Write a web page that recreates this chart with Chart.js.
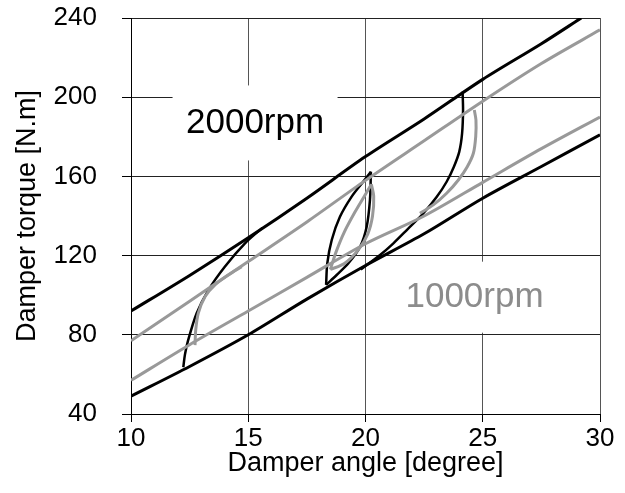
<!DOCTYPE html>
<html>
<head>
<meta charset="utf-8">
<script src="https://cdn.jsdelivr.net/npm/chart.js@4.4.0/dist/chart.umd.min.js"></script>
<style>
  html, body { margin: 0; padding: 0; background: #fff; }
  #wrap { width: 625px; height: 493px; }
</style>
</head>
<body>
<div id="wrap"><canvas id="hysteresis"></canvas></div>
<script>
// envelopes (full sweep), damper angle [deg] -> torque [N.m]
const envX        = [10, 12.5, 15, 17.5, 20, 22.5, 25, 27.5, 30];
const black2000Up = [92, 110, 129, 149, 170, 189, 209, 227, 240];
const black2000UpX = [10, 12.5, 15, 17.5, 20, 22.5, 25, 27.5, 29.2];
const black2000Lo = [49, 64, 80, 98, 115, 131, 149, 165, 181];
const gray1000Up  = [77, 97, 117, 137, 158, 178, 198, 217, 234];
const gray1000Lo  = [57, 75, 92, 109, 126, 140, 157, 174, 190];

// 2000rpm big loop branches
const bLoopUpX   = [12.23, 12.3, 12.44, 12.8, 13.3, 14.0, 14.86, 15.6];
const bLoopUpY   = [63.6, 70, 77.4, 90.9, 102.6, 114.4, 126.2, 134];
const bLoopDownX = [24.14, 24.16, 24.12, 24.0, 23.77, 23.46, 23.04, 22.47, 21.76, 21.19, 20.62, 19.8];
const bLoopDownY = [202.8, 193.5, 181.8, 172.5, 164.9, 157.3, 149.7, 141.4, 132.9, 126.2, 120.3, 113];

// 2000rpm small loop
const bLensLeftX  = [18.32, 18.37, 18.56, 18.91, 19.41, 19.9, 20.23];
const bLensLeftY  = [105.2, 116.1, 127.9, 139.6, 149.8, 157.3, 162.4];
const bLensRightX = [20.23, 20.19, 20.05, 19.77, 19.27, 18.77, 18.32];
const bLensRightY = [162.4, 148.1, 134.6, 124.5, 116.1, 110.2, 105.2];

// 1000rpm big loop branches
const gLoopUpX   = [12.73, 12.76, 12.87, 13.16, 13.58, 14.15, 14.72];
const gLoopUpY   = [74.8, 82.4, 90.9, 99.3, 105.2, 110.2, 114.4];
const gLoopDownX = [24.64, 24.71, 24.7, 24.6, 24.34, 23.96, 23.46, 22.89, 22.32];
const gLoopDownY = [193.5, 188.5, 180.1, 171.7, 164.9, 158.2, 151.5, 145.6, 141.4];

// 1000rpm small loop
const gLensLeftX  = [18.5, 18.75, 19.1, 19.55, 19.95, 20.25];
const gLensLeftY  = [113, 122, 132, 142, 150, 156];
const gLensRightX = [20.25, 20.35, 20.3, 20.1, 19.7, 19.1, 18.5];
const gLensRightY = [156, 150, 140, 131, 123, 116, 113];

const xTicks = [10, 15, 20, 25, 30];
const yTicks = [40, 80, 120, 160, 200, 240];

const BLACK = '#000000';
const GRAY = '#999999';
const FONT = "'Liberation Sans', Arial, sans-serif";

function pts(xs, ys) {
  return xs.map((x, i) => ({ x: x, y: ys[i] }));
}

function line(xs, ys, color, width) {
  return {
    data: pts(xs, ys),
    showLine: true,
    borderColor: color,
    borderWidth: width,
    pointRadius: 0,
    tension: 0.3,
    fill: false
  };
}

// white label boxes with text, placed in data coordinates
const labels = [
  { text: '2000rpm', x: 15.29, y: 187, color: '#000000', w: 165, h: 75 },
  { text: '1000rpm', x: 24.65, y: 99, color: '#8c8c8c', w: 160, h: 71 }
];

const labelPlugin = {
  id: 'rpmLabels',
  beforeDatasetsDraw(chart) {
    const ctx = chart.ctx;
    const xs = chart.scales.x, ys = chart.scales.y;
    ctx.save();
    labels.forEach(l => {
      const cx = xs.getPixelForValue(l.x);
      const cy = ys.getPixelForValue(l.y);
      ctx.fillStyle = '#ffffff';
      ctx.fillRect(cx - l.w / 2, cy - l.h / 2, l.w, l.h);
      ctx.fillStyle = l.color;
      ctx.font = '35px ' + FONT;
      ctx.textAlign = 'center';
      ctx.textBaseline = 'middle';
      ctx.fillText(l.text, cx, cy);
    });
    ctx.restore();
  }
};

new Chart(document.getElementById('hysteresis'), {
  type: 'scatter',
  data: {
    datasets: [
      line(black2000UpX, black2000Up, BLACK, 3),
      line(envX, black2000Lo, BLACK, 3),
      line(envX, gray1000Up, GRAY, 3),
      line(envX, gray1000Lo, GRAY, 3),
      line(gLoopUpX, gLoopUpY, GRAY, 3),
      line(gLoopDownX, gLoopDownY, GRAY, 3),
      line(gLensLeftX, gLensLeftY, GRAY, 3),
      line(gLensRightX, gLensRightY, GRAY, 3),
      line(bLoopUpX, bLoopUpY, BLACK, 2.5),
      line(bLoopDownX, bLoopDownY, BLACK, 2.5),
      line(bLensLeftX, bLensLeftY, BLACK, 2.5),
      line(bLensRightX, bLensRightY, BLACK, 2.5)
    ]
  },
  options: {
    responsive: true,
    maintainAspectRatio: false,
    animation: false,
    layout: { padding: { top: 18, right: 25, left: 0, bottom: 0 } },
    plugins: {
      legend: { display: false },
      tooltip: { enabled: false }
    },
    scales: {
      x: {
        type: 'linear',
        min: 10,
        max: 30,
        afterBuildTicks: s => { s.ticks = xTicks.map(v => ({ value: v })); },
        afterFit: s => { s.height = 79; s.paddingLeft = 0; s.paddingRight = 0; },
        grid: { color: '#555555', tickColor: '#000000', lineWidth: 1, tickLength: 8 },
        border: { color: '#000000', width: 1 },
        ticks: { color: '#000000', font: { family: FONT, size: 26 }, padding: 1, maxRotation: 0 },
        title: { display: true, text: 'Damper angle [degree]', color: '#000000',
                 font: { family: FONT, size: 27 }, padding: { top: 0, bottom: 13 } }
      },
      y: {
        type: 'linear',
        min: 40,
        max: 240,
        afterBuildTicks: s => { s.ticks = yTicks.map(v => ({ value: v })); },
        afterFit: s => { s.width = 131; s.paddingTop = 0; s.paddingBottom = 0; },
        grid: { color: '#222222', tickColor: '#000000', lineWidth: 1, tickLength: 9 },
        border: { color: '#000000', width: 1 },
        ticks: { color: '#000000', font: { family: FONT, size: 26 }, padding: 25 },
        title: { display: true, text: 'Damper torque [N.m]', color: '#000000',
                 font: { family: FONT, size: 27 }, padding: { top: 11, bottom: 0 } }
      }
    }
  },
  plugins: [labelPlugin]
});
</script>
</body>
</html>
